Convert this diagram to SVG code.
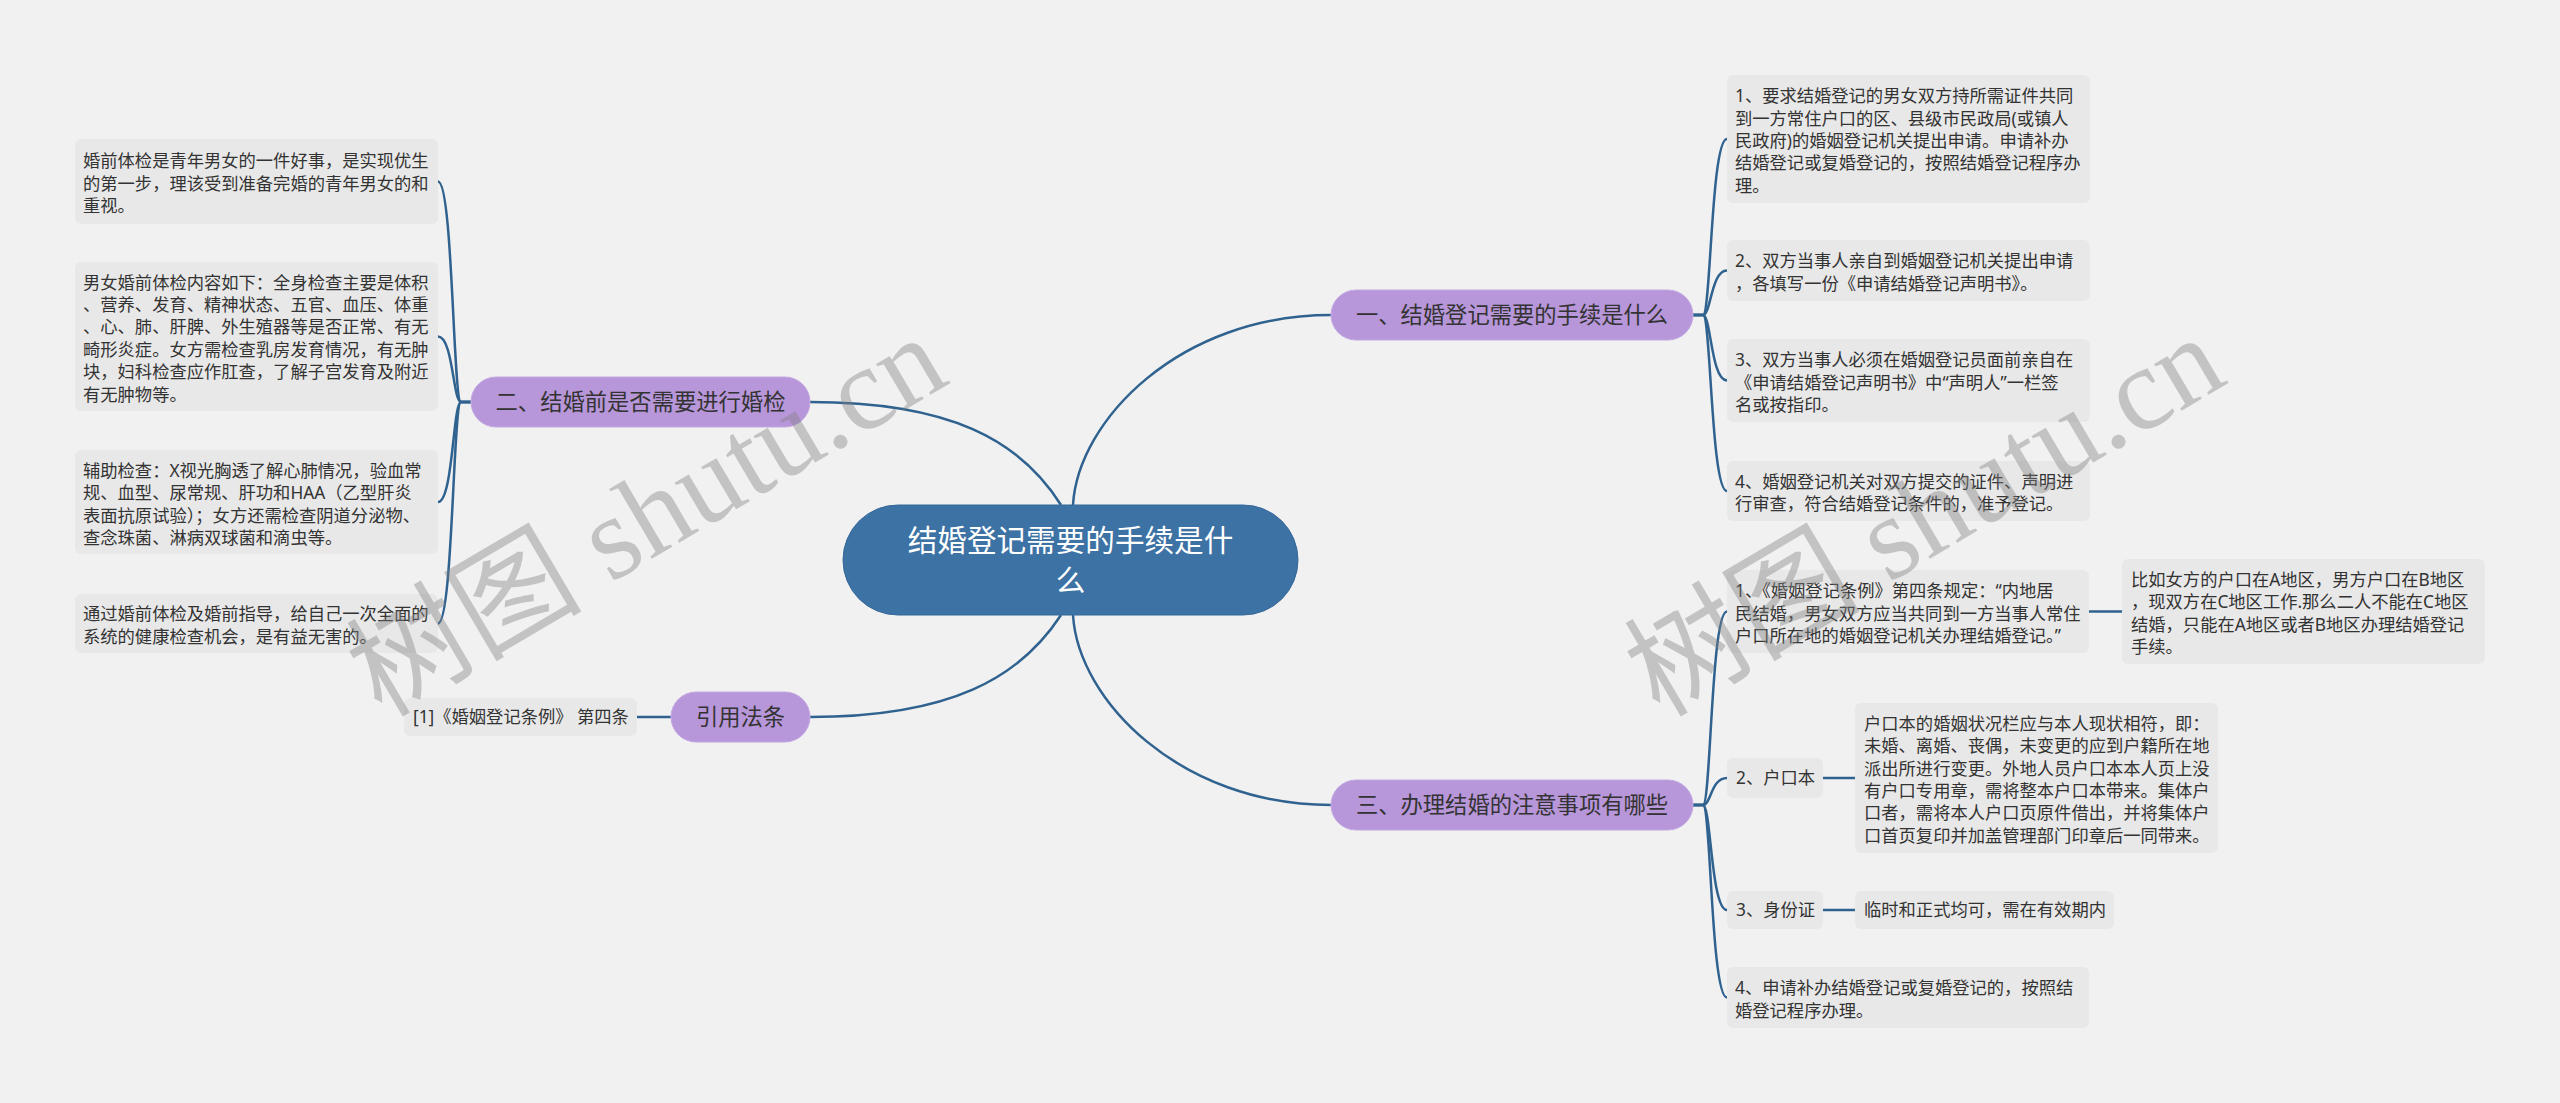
<svg xmlns="http://www.w3.org/2000/svg" width="2560" height="1103" viewBox="0 0 2560 1103">
<style>
.bg{fill:#f1f1f1}
.box{fill:#e8e8e8}
.t{font-family:"Noto Sans","Noto Sans CJK SC",sans-serif;font-size:17.3px;fill:#333333}
.pill{fill:#b796d9;stroke:#c4a8e2;stroke-width:1}
.pt{font-family:"Noto Sans","Noto Sans CJK SC",sans-serif;font-size:22.3px;fill:#333333;text-anchor:middle}
.root{fill:#3d72a4;stroke:#35689a;stroke-width:1}
.rt{font-family:"Noto Sans","Noto Sans CJK SC",sans-serif;font-size:29.6px;fill:#ffffff;text-anchor:middle}
.c{fill:none;stroke:#30628f;stroke-width:2.5}
.wm{font-family:"Liberation Serif","Noto Sans CJK SC",serif;font-size:118px;fill:#7f7f7f;fill-opacity:0.4;text-anchor:middle}
</style>
<rect class="bg" x="0" y="0" width="2560" height="1103"/>

<g id="connectors">
<path class="c" d="M810 402 C950 402 1020 440 1061 505"/>
<path class="c" d="M1073 505 C1078 420 1180 315 1331 315"/>
<path class="c" d="M810 717 C950 717 1020 678 1061 615"/>
<path class="c" d="M1073 615 C1078 700 1180 805 1331 805"/>
<path class="c" d="M471 402 L461 402 C453 402 453 181.5 438 181.5"/>
<path class="c" d="M471 402 L461 402 C453 402 453 336.5 438 336.5"/>
<path class="c" d="M471 402 L461 402 C453 402 453 502 438 502"/>
<path class="c" d="M471 402 L461 402 C453 402 453 623.5 438 623.5"/>
<path class="c" d="M1693 315 L1703 315 C1711 315 1711 139 1727 139"/>
<path class="c" d="M1693 315 L1703 315 C1711 315 1711 270.5 1727 270.5"/>
<path class="c" d="M1693 315 L1703 315 C1711 315 1711 380.5 1727 380.5"/>
<path class="c" d="M1693 315 L1703 315 C1711 315 1711 491 1727 491"/>
<path class="c" d="M1693 805 L1703 805 C1711 805 1711 611.5 1727 611.5"/>
<path class="c" d="M1693 805 L1703 805 C1711 805 1711 778 1727 778"/>
<path class="c" d="M1693 805 L1703 805 C1711 805 1711 910 1727 910"/>
<path class="c" d="M1693 805 L1703 805 C1711 805 1711 997.5 1727 997.5"/>
<path class="c" d="M2089 611.5 H2122"/>
<path class="c" d="M1823 778 H1855"/>
<path class="c" d="M1823 910 H1855"/>
<path class="c" d="M637 717 H671"/>
</g>

<g id="root">
<rect class="root" x="843" y="505" width="455" height="110" rx="55"/>
<text class="rt" x="1070.5" y="551">结婚登记需要的手续是什</text>
<text class="rt" x="1070.5" y="591">么</text>
</g>

<g id="branch1">
<rect class="pill" x="1331" y="290" width="362" height="50" rx="25"/>
<text class="pt" x="1512" y="323">一、结婚登记需要的手续是什么</text>
</g>
<g id="branch2">
<rect class="pill" x="471" y="377" width="339" height="50" rx="25"/>
<text class="pt" x="640.5" y="410">二、结婚前是否需要进行婚检</text>
</g>
<g id="branch3">
<rect class="pill" x="1331" y="780" width="362" height="50" rx="25"/>
<text class="pt" x="1512" y="813">三、办理结婚的注意事项有哪些</text>
</g>
<g id="branch4">
<rect class="pill" x="671" y="692" width="139" height="50" rx="25"/>
<text class="pt" x="740.5" y="725">引用法条</text>
</g>

<g id="L1">
<rect class="box" x="75" y="139" width="363" height="85" rx="6"/>
<text class="t"><tspan x="83" y="167">婚前体检是青年男女的一件好事，是实现优生</tspan><tspan x="83" y="189.5">的第一步，理该受到准备完婚的青年男女的和</tspan><tspan x="83" y="212">重视。</tspan></text>
</g>
<g id="L2">
<rect class="box" x="75" y="262" width="363" height="149" rx="6"/>
<text class="t"><tspan x="83" y="288.5">男女婚前体检内容如下：全身检查主要是体积</tspan><tspan x="83" y="311">、营养、发育、精神状态、五官、血压、体重</tspan><tspan x="83" y="333.3">、心、肺、肝脾、外生殖器等是否正常、有无</tspan><tspan x="83" y="355.7">畸形炎症。女方需检查乳房发育情况，有无肿</tspan><tspan x="83" y="378">块，妇科检查应作肛查，了解子宫发育及附近</tspan><tspan x="83" y="400.5">有无肿物等。</tspan></text>
</g>
<g id="L3">
<rect class="box" x="75" y="450" width="363" height="104" rx="6"/>
<text class="t"><tspan x="83" y="477">辅助检查：X视光胸透了解心肺情况，验血常</tspan><tspan x="83" y="499.4">规、血型、尿常规、肝功和HAA（乙型肝炎</tspan><tspan x="83" y="521.8">表面抗原试验）；女方还需检查阴道分泌物、</tspan><tspan x="83" y="544.2">查念珠菌、淋病双球菌和滴虫等。</tspan></text>
</g>
<g id="L4">
<rect class="box" x="75" y="594" width="363" height="59" rx="6"/>
<text class="t"><tspan x="83" y="620.3">通过婚前体检及婚前指导，给自己一次全面的</tspan><tspan x="83" y="642.7">系统的健康检查机会，是有益无害的。</tspan></text>
</g>
<g id="cite">
<rect class="box" x="404" y="698" width="233" height="38" rx="6"/>
<text class="t" x="413" y="723">[1]《婚姻登记条例》 第四条</text>
</g>

<g id="R1">
<rect class="box" x="1727" y="75" width="363" height="128" rx="6"/>
<text class="t"><tspan x="1735" y="102">1、要求结婚登记的男女双方持所需证件共同</tspan><tspan x="1735" y="124.6">到一方常住户口的区、县级市民政局(或镇人</tspan><tspan x="1735" y="147">民政府)的婚姻登记机关提出申请。申请补办</tspan><tspan x="1735" y="169.4">结婚登记或复婚登记的，按照结婚登记程序办</tspan><tspan x="1735" y="191.8">理。</tspan></text>
</g>
<g id="R2">
<rect class="box" x="1727" y="240" width="363" height="61" rx="6"/>
<text class="t"><tspan x="1735" y="267.3">2、双方当事人亲自到婚姻登记机关提出申请</tspan><tspan x="1735" y="289.7">，各填写一份《申请结婚登记声明书》。</tspan></text>
</g>
<g id="R3">
<rect class="box" x="1727" y="339" width="363" height="83" rx="6"/>
<text class="t"><tspan x="1735" y="366">3、双方当事人必须在婚姻登记员面前亲自在</tspan><tspan x="1735" y="388.5">《申请结婚登记声明书》中“声明人”一栏签</tspan><tspan x="1735" y="411">名或按指印。</tspan></text>
</g>
<g id="R4">
<rect class="box" x="1727" y="461" width="363" height="60" rx="6"/>
<text class="t"><tspan x="1735" y="487.8">4、婚姻登记机关对双方提交的证件、声明进</tspan><tspan x="1735" y="510.2">行审查，符合结婚登记条件的，准予登记。</tspan></text>
</g>

<g id="B1">
<rect class="box" x="1727" y="570" width="362" height="83" rx="6"/>
<text class="t"><tspan x="1735" y="597">1、《婚姻登记条例》第四条规定：“内地居</tspan><tspan x="1735" y="619.5">民结婚，男女双方应当共同到一方当事人常住</tspan><tspan x="1735" y="642">户口所在地的婚姻登记机关办理结婚登记。”</tspan></text>
</g>
<g id="B1a">
<rect class="box" x="2122" y="559" width="363" height="105" rx="6"/>
<text class="t"><tspan x="2131" y="586">比如女方的户口在A地区，男方户口在B地区</tspan><tspan x="2131" y="608.3">，现双方在C地区工作.那么二人不能在C地区</tspan><tspan x="2131" y="630.7">结婚，只能在A地区或者B地区办理结婚登记</tspan><tspan x="2131" y="653">手续。</tspan></text>
</g>
<g id="B2">
<rect class="box" x="1727" y="758" width="96" height="40" rx="6"/>
<text class="t" x="1736" y="784">2、户口本</text>
</g>
<g id="B2a">
<rect class="box" x="1855" y="703" width="363" height="150" rx="6"/>
<text class="t"><tspan x="1864" y="729.8">户口本的婚姻状况栏应与本人现状相符，即：</tspan><tspan x="1864" y="752.2">未婚、离婚、丧偶，未变更的应到户籍所在地</tspan><tspan x="1864" y="774.6">派出所进行变更。外地人员户口本本人页上没</tspan><tspan x="1864" y="797">有户口专用章，需将整本户口本带来。集体户</tspan><tspan x="1864" y="819.4">口者，需将本人户口页原件借出，并将集体户</tspan><tspan x="1864" y="841.8">口首页复印并加盖管理部门印章后一同带来。</tspan></text>
</g>
<g id="B3">
<rect class="box" x="1727" y="891" width="96" height="38" rx="6"/>
<text class="t" x="1736" y="916">3、身份证</text>
</g>
<g id="B3a">
<rect class="box" x="1855" y="891" width="259" height="38" rx="6"/>
<text class="t" x="1864" y="916">临时和正式均可，需在有效期内</text>
</g>
<g id="B4">
<rect class="box" x="1727" y="967" width="362" height="61" rx="6"/>
<text class="t"><tspan x="1735" y="994.3">4、申请补办结婚登记或复婚登记的，按照结</tspan><tspan x="1735" y="1016.7">婚登记程序办理。</tspan></text>
</g>

<g id="watermarks">
<text class="wm" x="649" y="555" transform="rotate(-30.5 649 520)">树图 shutu.cn</text>
<text class="wm" x="1927" y="555" transform="rotate(-30.5 1927 520)">树图 shutu.cn</text>
</g>
</svg>
